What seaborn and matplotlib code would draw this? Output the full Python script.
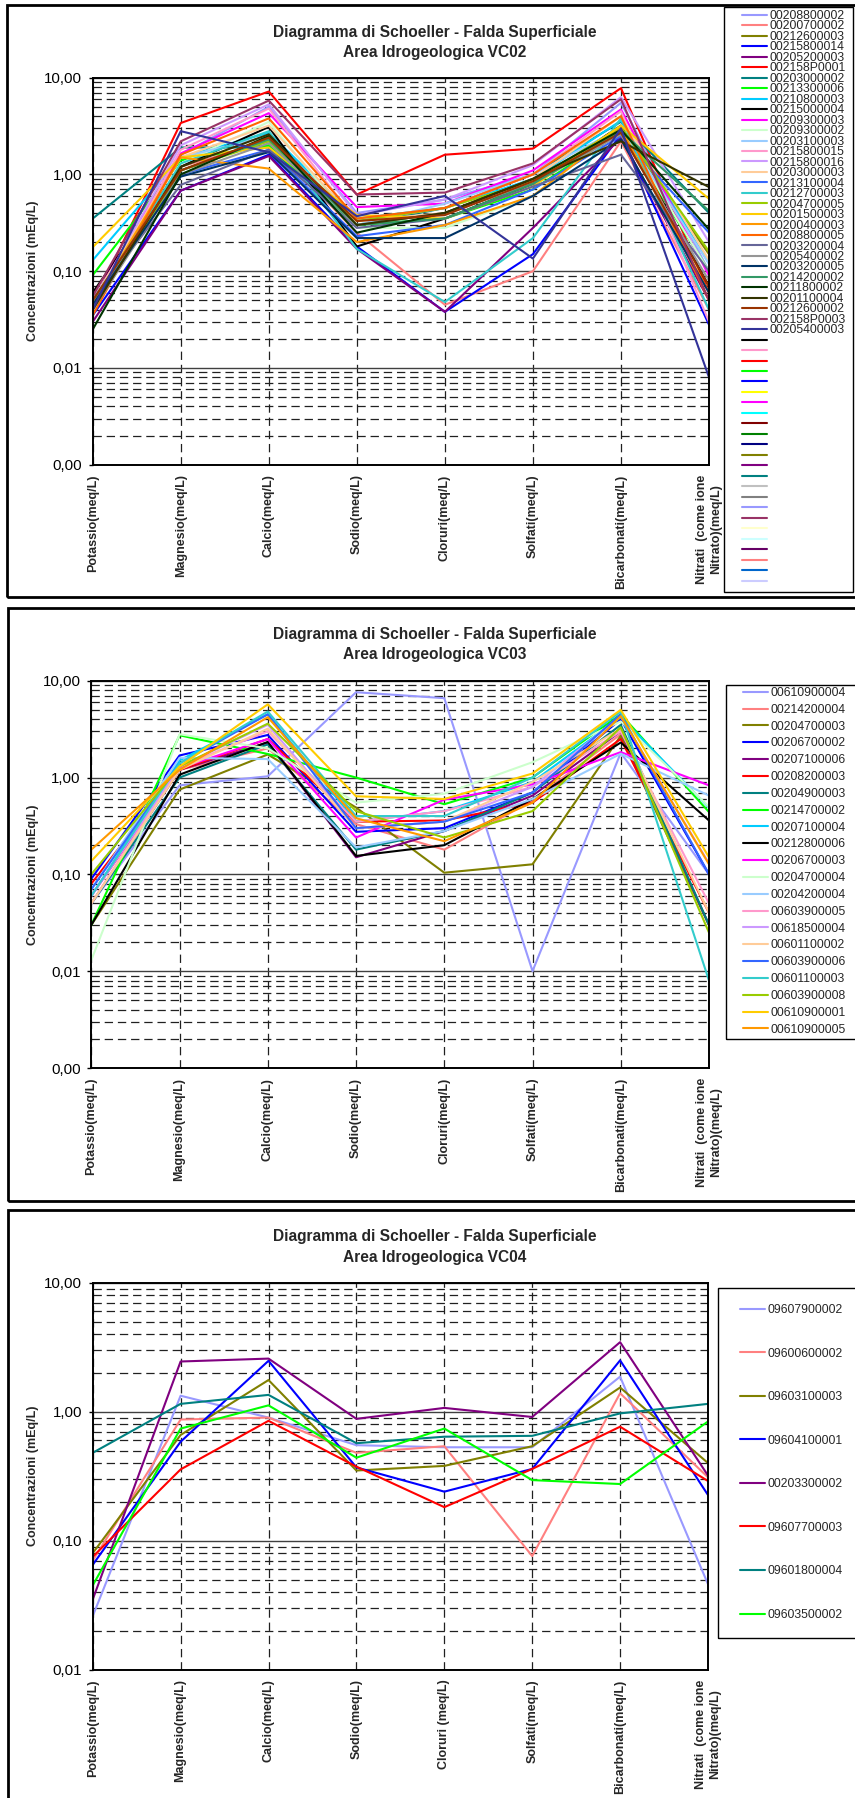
import matplotlib
matplotlib.use('Agg')
import matplotlib.pyplot as plt
import seaborn as sns
import pandas as pd
from matplotlib.lines import Line2D
from matplotlib.patches import Rectangle
from matplotlib.ticker import LogLocator, NullFormatter

sns.set_theme(style='white')
plt.rcParams['font.family'] = ['Liberation Sans', 'DejaVu Sans']
plt.rcParams['lines.scale_dashes'] = False

# --- dati ---------------------------------------------------------------
parametri = ['Potassio(meq/L)', 'Magnesio(meq/L)', 'Calcio(meq/L)', 'Sodio(meq/L)',
             'Cloruri(meq/L)', 'Solfati(meq/L)', 'Bicarbonati(meq/L)',
             'Nitrati  (come ione\nNitrato)(meq/L)']
parametri_vc04 = ['Potassio(meq/L)', 'Magnesio(meq/L)', 'Calcio(meq/L)', 'Sodio(meq/L)',
                  'Cloruri (meq/L)', 'Solfati(meq/L)', 'Bicarbonati(meq/L)',
                  'Nitrati  (come ione\nNitrato)(meq/L)']

tick_vc02 = [0.001, 0.01, 0.1, 1, 10]
tick_labels_vc02 = ['0,00', '0,01', '0,10', '1,00', '10,00']
tick_vc04 = [0.01, 0.1, 1, 10]
tick_labels_vc04 = ['0,01', '0,10', '1,00', '10,00']

vc02_stazioni = ['00208800002', '00200700002', '00212600003', '00215800014', '00205200003',
                 '002158P0001', '00203000002', '00213300006', '00210800003', '00215000004',
                 '00209300003', '00209300002', '00203100003', '00215800015', '00215800016',
                 '00203000003', '00213100004', '00212700003', '00204700005', '00201500003',
                 '00200400003', '00208800005', '00203200004', '00205400002', '00203200005',
                 '00214200002', '00211800002', '00201100004', '00212600002', '002158P0003',
                 '00205400003']
vc02_valori = [
    [0.050, 1.60, 5.00, 0.40, 0.55, 1.00, 5.50, 0.100],
    [0.040, 1.20, 2.20, 0.25, 0.045, 0.10, 2.20, 0.040],
    [0.040, 1.10, 2.30, 0.30, 0.40, 0.80, 3.00, 0.150],
    [0.035, 0.68, 1.60, 0.18, 0.038, 0.15, 2.60, 0.028],
    [0.030, 0.68, 1.55, 0.17, 0.038, 0.28, 2.40, 0.050],
    [0.045, 3.40, 7.20, 0.62, 1.60, 1.85, 7.80, 0.060],
    [0.350, 1.90, 1.90, 0.30, 0.45, 1.00, 3.50, 0.400],
    [0.091, 1.40, 2.00, 0.30, 0.35, 0.70, 2.80, 0.100],
    [0.130, 1.50, 2.70, 0.35, 0.45, 0.90, 3.60, 0.120],
    [0.060, 1.20, 3.10, 0.18, 0.35, 0.80, 3.20, 0.070],
    [0.050, 1.65, 4.30, 0.46, 0.50, 1.10, 4.70, 0.090],
    [0.040, 1.30, 3.50, 0.28, 0.28, 0.60, 3.00, 0.100],
    [0.050, 1.50, 2.50, 0.30, 0.50, 1.00, 3.00, 0.120],
    [0.040, 1.80, 4.80, 0.33, 0.45, 1.00, 4.50, 0.030],
    [0.045, 2.00, 5.30, 0.38, 0.55, 1.25, 6.30, 0.200],
    [0.050, 1.50, 3.20, 0.33, 0.40, 0.90, 4.00, 0.130],
    [0.050, 1.00, 1.80, 0.23, 0.30, 0.70, 2.50, 0.250],
    [0.045, 1.30, 2.80, 0.17, 0.048, 0.22, 3.80, 0.040],
    [0.040, 1.10, 2.20, 0.33, 0.45, 0.85, 3.10, 0.160],
    [0.177, 1.50, 1.90, 0.38, 0.35, 0.75, 3.20, 0.560],
    [0.045, 1.50, 1.15, 0.20, 0.30, 0.60, 3.00, 0.060],
    [0.035, 1.60, 3.80, 0.35, 0.45, 1.00, 4.00, 0.050],
    [0.050, 0.78, 1.80, 0.28, 0.35, 0.75, 1.60, 0.100],
    [0.040, 1.00, 2.10, 0.30, 0.40, 0.80, 2.60, 0.080],
    [0.045, 0.95, 1.70, 0.22, 0.22, 0.60, 2.30, 0.060],
    [0.050, 1.10, 2.30, 0.30, 0.35, 0.80, 2.80, 0.420],
    [0.025, 1.00, 2.50, 0.25, 0.40, 0.90, 2.90, 0.270],
    [0.040, 1.20, 2.60, 0.30, 0.40, 0.90, 2.20, 0.740],
    [0.050, 1.10, 2.40, 0.33, 0.38, 0.85, 2.70, 0.070],
    [0.055, 2.20, 5.80, 0.62, 0.65, 1.30, 6.00, 0.050],
    [0.040, 2.80, 1.70, 0.37, 0.60, 0.135, 3.00, 0.008],
]

vc03_stazioni = ['00610900004', '00214200004', '00204700003', '00206700002', '00207100006',
                 '00208200003', '00204900003', '00214700002', '00207100004', '00212800006',
                 '00206700003', '00204700004', '00204200004', '00603900005', '00618500004',
                 '00601100002', '00603900006', '00601100003', '00603900008', '00610900001',
                 '00610900005']
vc03_valori = [
    [0.050, 0.83, 1.03, 7.60, 6.60, 0.010, 1.80, 0.100],
    [0.060, 1.20, 2.00, 0.33, 0.18, 0.58, 2.80, 0.030],
    [0.030, 0.75, 1.73, 0.49, 0.104, 0.127, 2.70, 0.030],
    [0.090, 1.69, 2.75, 0.275, 0.30, 0.70, 4.00, 0.100],
    [0.050, 1.20, 2.30, 0.15, 0.28, 0.65, 3.00, 0.030],
    [0.080, 1.20, 2.50, 0.35, 0.36, 0.55, 2.50, 0.040],
    [0.050, 1.00, 2.20, 0.18, 0.28, 0.70, 3.50, 0.030],
    [0.030, 2.73, 1.75, 1.00, 0.53, 1.00, 4.50, 0.440],
    [0.060, 1.50, 4.50, 0.35, 0.45, 0.90, 4.20, 0.490],
    [0.030, 1.07, 2.33, 0.155, 0.20, 0.60, 2.30, 0.360],
    [0.060, 1.25, 2.50, 0.24, 0.59, 0.85, 1.83, 0.830],
    [0.013, 2.80, 2.00, 0.55, 0.68, 1.44, 3.80, 0.500],
    [0.070, 1.60, 1.55, 0.19, 0.28, 0.60, 1.76, 0.650],
    [0.050, 1.30, 3.00, 0.35, 0.45, 0.80, 3.00, 0.050],
    [0.060, 1.30, 3.50, 0.30, 0.35, 0.80, 4.30, 0.130],
    [0.050, 1.20, 3.20, 0.30, 0.35, 0.90, 3.20, 0.040],
    [0.070, 1.40, 4.50, 0.30, 0.35, 0.70, 4.50, 0.100],
    [0.060, 1.40, 4.80, 0.40, 0.40, 1.00, 4.80, 0.008],
    [0.100, 1.30, 3.60, 0.45, 0.24, 0.45, 3.30, 0.025],
    [0.137, 1.30, 5.70, 0.64, 0.60, 1.10, 5.00, 0.150],
    [0.180, 1.20, 4.20, 0.38, 0.22, 0.55, 4.30, 0.127],
]

vc04_stazioni = ['09607900002', '09600600002', '09603100003', '09604100001',
                 '00203300002', '09607700003', '09601800004', '09603500002']
vc04_valori = [
    [0.026, 1.33, 0.90, 0.55, 0.53, 0.53, 1.87, 0.046],
    [0.070, 0.87, 0.90, 0.48, 0.54, 0.076, 1.39, 0.310],
    [0.080, 0.66, 1.76, 0.35, 0.38, 0.54, 1.54, 0.400],
    [0.065, 0.585, 2.48, 0.37, 0.24, 0.36, 2.50, 0.226],
    [0.035, 2.45, 2.58, 0.88, 1.07, 0.91, 3.46, 0.320],
    [0.075, 0.357, 0.85, 0.375, 0.182, 0.36, 0.765, 0.290],
    [0.480, 1.15, 1.35, 0.57, 0.64, 0.65, 0.97, 1.150],
    [0.045, 0.74, 1.12, 0.44, 0.74, 0.295, 0.275, 0.840],
]

# --- stile ---------------------------------------------------------------
colori_excel = ['#9999FF', '#FF8080', '#808000', '#0000FF', '#800080', '#FF0000', '#008080',
                '#00FF00', '#00CCFF', '#000000', '#FF00FF', '#CCFFCC', '#99CCFF', '#FF99CC',
                '#CC99FF', '#FFCC99', '#3366FF', '#33CCCC', '#99CC00', '#FFCC00', '#FF9900',
                '#FF6600', '#666699', '#969696', '#003366', '#339966', '#003300', '#333300',
                '#993300', '#993366', '#333399']
# voci di legenda vuote del primo grafico
colori_vuoti = ['#000000', '#FF99CC', '#FF0000', '#00FF00', '#0000FF', '#FFFF00', '#FF00FF',
                '#00FFFF', '#800000', '#008000', '#000080', '#808000', '#800080', '#008080',
                '#C0C0C0', '#808080', '#9999FF', '#993366', '#FFFFCC', '#CCFFFF', '#660066',
                '#FF8080', '#0066CC', '#CCCCFF']

W, H = 855, 1798
fig = plt.figure(figsize=(W / 100, H / 100), dpi=100)


def px_box(x0, y0, x1, y1, lw):
    fig.add_artist(Rectangle((x0 / W, 1 - y1 / H), (x1 - x0) / W, (y1 - y0) / H,
                             transform=fig.transFigure, fill=False, ec='black', lw=lw,
                             clip_on=False))


def disegna(l, t, r, b, stazioni, valori, etichette, ymin, ticks, tick_labels):
    ax = fig.add_axes([l / W, 1 - b / H, (r - l) / W, (b - t) / H])
    righe = []
    for s, vals in zip(stazioni, valori):
        for i, v in enumerate(vals):
            righe.append({'stazione': s, 'pos': i, 'conc': v})
    df = pd.DataFrame(righe)
    pal = dict(zip(stazioni, colori_excel[:len(stazioni)]))
    sns.lineplot(data=df, x='pos', y='conc', hue='stazione', hue_order=stazioni,
                 palette=pal, estimator=None, sort=False, legend=False, lw=1.5, ax=ax)
    ax.set_yscale('log')
    ax.set_ylim(ymin, 10)
    ax.set_xlim(0, 7)
    ax.set_yticks(ticks)
    ax.set_yticklabels(tick_labels, fontsize=10.8)
    ax.yaxis.set_minor_locator(LogLocator(base=10, subs=range(2, 10)))
    ax.yaxis.set_minor_formatter(NullFormatter())
    ax.set_xticks(range(8))
    ax.set_xticklabels(etichette, rotation=90, fontsize=9, fontweight='bold',
                       ha='center', va='top', multialignment='center')
    ax.tick_params(axis='x', length=0, pad=7)
    ax.tick_params(axis='y', which='major', length=3.2, width=1, pad=4.5, left=True,
                   color='black', labelcolor='black')
    ax.tick_params(axis='y', which='minor', length=0)
    ax.set_xlabel('')
    ax.set_ylabel('')
    ax.set_axisbelow(True)
    ax.grid(which='major', axis='y', color='#404040', ls='-', lw=1)
    ax.grid(which='minor', axis='y', color='#202020', ls=(0, (6, 3.5)), lw=0.9)
    ax.grid(which='major', axis='x', color='#202020', ls=(0, (6, 3.5)), lw=0.9)
    for sp in ax.spines.values():
        sp.set_visible(True)
        sp.set_color('black')
        sp.set_linewidth(1.4)
    fig.text(33 / W, 1 - (t + b) / 2 / H, 'Concentrazioni (mEq/L)', rotation=90,
             ha='center', va='center', fontsize=9, fontweight='bold')
    return ax


def titolo(y1, y2, area):
    fig.text(435 / W, 1 - y1 / H, 'Diagramma di Schoeller - Falda Superficiale',
             ha='center', va='center', fontsize=11.2, fontweight='bold')
    fig.text(435 / W, 1 - y2 / H, 'Area Idrogeologica ' + area,
             ha='center', va='center', fontsize=11.2, fontweight='bold')


def legenda(x, y, etichette, colori, spacing):
    handles = [Line2D([], [], color=c, lw=1.5) for c in colori]
    fig.legend(handles, etichette, loc='upper left', bbox_to_anchor=(x / W, 1 - y / H),
               frameon=False, fontsize=8.7, handlelength=2.1, handletextpad=0.2,
               labelspacing=spacing, borderpad=0, borderaxespad=0)


# --- VC02 ---
px_box(7, 5, 880, 597, 2)
px_box(724, 7, 852.7, 592, 1)
titolo(32, 53, 'VC02')
disegna(92.7, 77.7, 709, 464.7, vc02_stazioni, vc02_valori, parametri,
        0.001, tick_vc02, tick_labels_vc02)
legenda(741.7, 10, vc02_stazioni + [''] * len(colori_vuoti),
        colori_excel + colori_vuoti, -0.126)

# --- VC03 ---
px_box(8, 608, 880, 1200.7, 2)
px_box(725.7, 685, 880, 1039, 1)
titolo(635, 655, 'VC03')
disegna(91.3, 680.7, 709, 1068, vc03_stazioni, vc03_valori, parametri,
        0.001, tick_vc02, tick_labels_vc02)
legenda(743, 687, vc03_stazioni, colori_excel[:len(vc03_stazioni)], 0.40)

# --- VC04 ---
px_box(8, 1210, 880, 1830, 2)
px_box(718, 1288, 880, 1638, 1)
titolo(1236.7, 1257.7, 'VC04')
disegna(92.7, 1282.7, 708, 1669.7, vc04_stazioni, vc04_valori, parametri_vc04,
        0.01, tick_vc04, tick_labels_vc04)
legenda(740, 1304, vc04_stazioni, colori_excel[:len(vc04_stazioni)], 2.61)

fig.savefig('out.png', dpi=100)
